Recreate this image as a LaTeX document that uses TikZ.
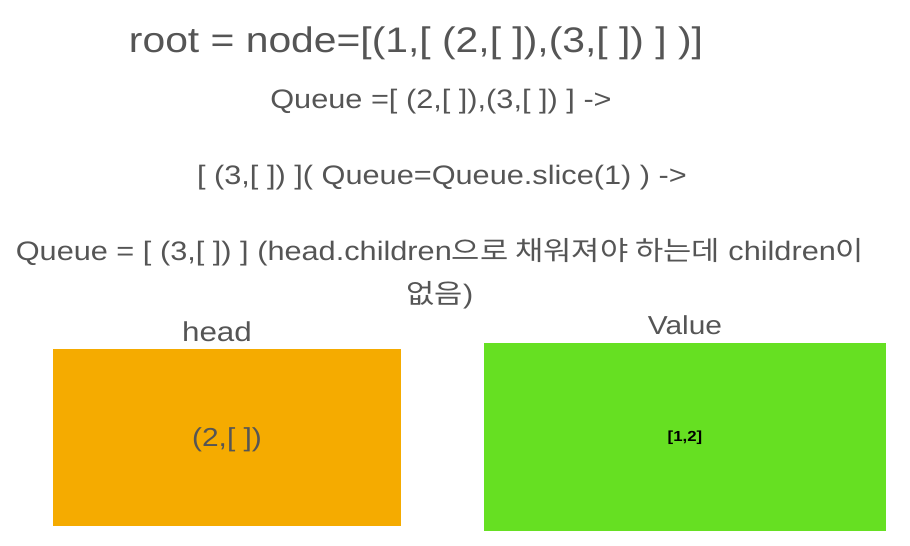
\documentclass[tikz,border=0pt]{standalone}
\usepackage{fontspec}
\setmainfont{Liberation Sans}[FakeStretch=1.15]
\newfontfamily\krfont{Noto Sans CJK KR}[FakeStretch=1.15]
\usetikzlibrary{positioning}
\definecolor{txtgray}{RGB}{85,85,85}
\definecolor{headorange}{RGB}{245,171,0}
\definecolor{valgreen}{RGB}{102,224,34}
\begin{document}
\begin{tikzpicture}[x=1pt,y=-1pt,every node/.style={text=txtgray,inner sep=0pt},
    line/.style={font=\fontsize{26.7}{30}\selectfont}]
    \useasboundingbox (0,0) rectangle (910,546);
    % title and queue trace
    \node[font=\fontsize{35.5}{40}\selectfont] (root) at (416,43) {root = node=[(1,[ (2,[ ]),(3,[ ]) ] )]};
    \node[line] (q1) at (441,102) {Queue =[ (2,[ ]),(3,[ ]) ] ->};
    \node[line] (q2) at (442,178) {[ (3,[ ]) ]( Queue=Queue.slice(1) ) ->};
    \node[line] (q3) at (440,252) {Queue = [ (3,[ ]) ] (head.children{\krfont 으로 채워져야 하는데} children{\krfont 이}};
    \node[line] (q4) at (440,295) {{\krfont 없음})};
    % head and value boxes
    \fill[headorange] (53,349) rectangle (401,526);
    \fill[valgreen] (484,343) rectangle (886,531);
    \node[font=\fontsize{27.3}{30}\selectfont] (head) at (217,332) {head};
    \node[font=\fontsize{26}{30}\selectfont] (value) at (685,325) {Value};
    \node[font=\fontsize{26}{30}\selectfont] (hval) at (227,440) {(2,[ ])};
    \node[font=\fontsize{14.6}{16}\selectfont\bfseries,text=black] (vval) at (685,438) {[1,2]};
\end{tikzpicture}
\end{document}
